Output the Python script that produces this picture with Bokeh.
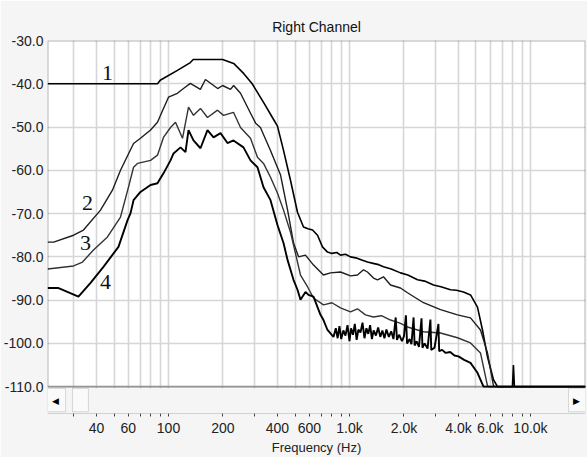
from bokeh.plotting import figure
from bokeh.models import Range1d, FixedTicker, PrintfTickFormatter, BoxAnnotation, Label
from bokeh.embed import file_html
from bokeh.resources import INLINE

# ---------------- data (frequency in Hz, level in dB) ----------------
curve1 = [(21.5, -40.0), (87, -40.0), (90, -39.2), (112, -36.9), (132, -35.1), (137, -34.4),
          (199, -34.4), (229, -35.3), (260, -37.6), (290, -40.0), (335, -44.3), (380, -48.2),
          (400, -49.8), (432, -55.4), (472, -62.3), (516, -69.7), (557, -73.1), (590, -73.5),
          (625, -73.8), (666, -75.0), (709, -77.7), (756, -78.9), (800, -79.2), (850, -79.0),
          (892, -79.6), (950, -79.4), (1013, -80.0), (1100, -80.3), (1180, -80.8), (1257, -81.2),
          (1350, -81.5), (1450, -81.8), (1541, -82.3), (1700, -82.8), (1913, -83.7), (2100, -84.2),
          (2376, -85.3), (2600, -85.6), (2911, -86.5), (3200, -86.9), (3614, -87.6), (3900, -87.7),
          (4265, -88.1), (4663, -88.8), (5096, -91.6), (5430, -96.9), (5787, -103.1), (6246, -108.4),
          (6572, -110.0), (7950, -110.0), (8050, -105.0), (8150, -110.0), (20137, -110.0)]

curve2 = [(21.5, -76.6), (23.2, -76.6), (29.9, -75.0), (33.9, -73.8), (42.1, -69.2), (49.0, -64.6),
          (54.3, -60.0), (64.1, -53.8), (70.0, -52.6), (79.6, -50.7), (86.9, -48.9), (93.8, -45.7),
          (100, -43.1), (112, -42.2), (121, -41.1), (132, -39.9), (150, -41.3), (160, -39.0),
          (187, -41.1), (199, -40.4), (220, -41.3), (229, -40.4), (250, -42.2), (284, -46.8),
          (303, -49.1), (322, -50.1), (366, -55.4), (416, -61.1), (455, -69.2), (491, -76.8),
          (523, -80.0), (571, -79.6), (633, -81.9), (718, -84.2), (785, -83.7), (892, -83.5),
          (1013, -84.4), (1107, -84.2), (1195, -83.0), (1257, -83.5), (1357, -84.9), (1428, -85.3),
          (1541, -84.6), (1685, -86.5), (1913, -87.2), (2091, -88.3), (2564, -90.6), (3183, -92.2),
          (3952, -93.4), (4663, -94.1), (5294, -96.9), (5787, -102.2), (6246, -109.8), (6400, -110.0),
          (20137, -110.0)]

curve3 = [(21.5, -82.8), (29.9, -82.1), (33.5, -81.2), (38.5, -78.4), (46.0, -75.4), (54.3, -70.8),
          (60.1, -63.9), (64.1, -59.3), (67.4, -58.4), (79.6, -57.7), (86.9, -56.5), (93.8, -52.4),
          (102.6, -50.1), (109.3, -48.9), (119.5, -52.6), (129.0, -45.4), (137.4, -47.3), (150.2, -45.7),
          (164.2, -47.8), (186.5, -46.1), (201.3, -47.3), (228.6, -46.6), (249.9, -50.1), (283.8, -52.6),
          (310.2, -57.0), (334.9, -58.4), (366.1, -61.6), (400.3, -65.3), (432.0, -69.2), (472.1, -74.3),
          (516.1, -81.2), (536.1, -84.2), (586.1, -86.9), (632.5, -89.5), (718.4, -91.1), (800, -90.6),
          (891.8, -91.8), (1013, -92.7), (1107, -92.0), (1225, -93.4), (1357, -93.9), (1500, -93.6),
          (1685, -94.6), (1900, -95.3), (2091, -96.2), (2564, -97.3), (3183, -97.6), (3952, -98.7),
          (4663, -99.9), (5294, -102.2), (5787, -109.8), (5900, -110.0), (20137, -110.0)]

curve4 = [(21.5, -87.2), (24.7, -87.2), (31.8, -89.2), (37.1, -86.0), (43.7, -82.3), (52.9, -77.7),
          (59.4, -71.5), (61.7, -69.9), (64.1, -66.9), (70.0, -65.0), (79.6, -63.4), (86.9, -63.0),
          (93.8, -60.7), (102.6, -57.7), (106.6, -56.1), (116.5, -54.7), (124.1, -55.8), (129.0, -50.7),
          (137.4, -53.1), (150.2, -54.9), (164.2, -50.7), (177.3, -52.4), (193.8, -51.4), (211.8, -53.7),
          (228.6, -53.1), (259.6, -54.7), (283.8, -57.7), (310.2, -59.3), (334.9, -63.9), (366.1, -66.9),
          (400.3, -72.7), (432.0, -76.8), (454.6, -80.7), (490.5, -85.3), (516.1, -87.6), (536.1, -89.9),
          (571.3, -88.1), (593.6, -88.8), (632.5, -89.2), (691.5, -93.4), (718.4, -94.6), (756.0, -96.9),
          (815.8, -98.5), (840, -96.5), (860, -98.8), (880, -96.0), (900, -99.0), (925, -97.0),
          (950, -98.2), (975, -95.8), (1000, -99.5), (1020, -96.5), (1045, -98.0), (1070, -95.5),
          (1095, -99.2), (1120, -96.8), (1150, -97.5), (1180, -95.2), (1210, -98.8), (1240, -96.5),
          (1270, -97.8), (1300, -95.8), (1330, -99.0), (1360, -97.0), (1400, -98.2), (1440, -96.3),
          (1480, -98.5), (1520, -97.0), (1560, -98.8), (1600, -96.8), (1650, -98.5), (1700, -97.2),
          (1750, -99.0), (1800, -94.0), (1830, -99.2), (1880, -98.0), (1950, -99.5), (2000, -98.3),
          (2050, -93.5), (2080, -100.0), (2150, -99.0), (2200, -100.2), (2260, -94.0), (2290, -100.5),
          (2350, -99.5), (2420, -100.8), (2500, -94.2), (2530, -101.0), (2600, -100.0), (2700, -101.2),
          (2800, -94.5), (2830, -101.5), (2950, -101.0), (3100, -95.5), (3130, -101.8), (3250, -101.5),
          (3400, -102.2), (3600, -102.0), (3800, -102.8), (4000, -103.0), (4300, -103.8), (4663, -104.5),
          (5096, -106.8), (5500, -110.0), (20137, -110.0)]

curve_names = ["1", "2", "3", "4"]
curve_label_pos = [(46, -37.4), (35.7, -67.6), (34.8, -76.8), (44.9, -85.8)]

x_tick_values = [40, 60, 100, 200, 400, 600, 1000, 2000, 4000, 6000, 10000]
x_tick_labels = ["40", "60", "100", "200", "400", "600", "1.0k", "2.0k", "4.0k", "6.0k", "10.0k"]
x_minor_values = [30, 50, 70, 80, 90, 300, 500, 700, 800, 900, 3000, 5000, 7000, 8000, 9000]
y_tick_values = [-110, -100, -90, -80, -70, -60, -50, -40, -30]

F_MIN, F_MAX = 21.45, 20137
DB_TOP, DB_FLOOR, DB_BOTTOM = -30.0, -110.0, -116.2

SANS = "Liberation Sans"
GRID = "#d6d6d6"
BG = "#f5f5f5"

p = figure(width=587, height=457, x_axis_type="log",
           x_range=Range1d(F_MIN, F_MAX), y_range=Range1d(DB_BOTTOM, DB_TOP),
           output_backend="svg", toolbar_location=None, title="Right Channel",
           min_border_left=47, min_border_right=2, min_border_top=40, min_border_bottom=43)

p.border_fill_color = BG
p.background_fill_color = "white"
p.outline_line_color = None

p.title.align = "center"
p.title.text_font = SANS
p.title.text_font_size = "14px"
p.title.text_font_style = "normal"
p.title.text_color = "#111111"
p.title.standoff = 11

# x axis
p.xaxis.ticker = FixedTicker(ticks=x_tick_values, minor_ticks=x_minor_values)
p.xaxis.major_label_overrides = dict(zip(x_tick_values, x_tick_labels))
p.xaxis.major_tick_in = 0
p.xaxis.major_tick_out = 3
p.xaxis.minor_tick_in = 0
p.xaxis.minor_tick_out = 3
p.xaxis.major_tick_line_color = "#444444"
p.xaxis.minor_tick_line_color = "#444444"
p.xaxis.axis_line_color = "#c4c4c4"
p.xaxis.major_label_standoff = 3
p.xaxis.major_label_text_font = SANS
p.xaxis.major_label_text_font_size = "14px"
p.xaxis.major_label_text_color = "#222222"
p.xaxis.axis_label = "Frequency (Hz)"
p.xaxis.axis_label_standoff = 1
p.xaxis.axis_label_text_font = SANS
p.xaxis.axis_label_text_font_size = "13px"
p.xaxis.axis_label_text_font_style = "normal"
p.xaxis.axis_label_text_color = "#222222"

# y axis
p.yaxis.ticker = FixedTicker(ticks=y_tick_values)
p.yaxis.formatter = PrintfTickFormatter(format="%.1f")
p.yaxis.major_tick_in = 0
p.yaxis.major_tick_out = 0
p.yaxis.minor_tick_line_color = None
p.yaxis.axis_line_color = None
p.yaxis.major_label_standoff = 4
p.yaxis.major_label_text_font = SANS
p.yaxis.major_label_text_font_size = "14px"
p.yaxis.major_label_text_color = "#222222"

# grids
p.xgrid.grid_line_color = GRID
p.xgrid.grid_line_width = 1.6
p.xgrid.minor_grid_line_color = GRID
p.xgrid.minor_grid_line_width = 1.6
p.ygrid.grid_line_color = GRID
p.ygrid.grid_line_width = 1.6

# curves
styles = [("#000000", 1.6), ("#1e1e1e", 1.4), ("#333333", 1.4), ("#000000", 1.9)]
for data, (col, lw) in zip([curve1, curve2, curve3, curve4], styles):
    fx, dy = zip(*data)
    p.line(list(fx), list(dy), line_color=col, line_width=lw)

for name, (fx, dy) in zip(curve_names, curve_label_pos):
    p.add_layout(Label(x=fx, y=dy, text=name, text_font="Liberation Serif",
                       text_font_size="22px", text_align="center",
                       text_baseline="middle", text_color="#111111"))

# scrollbar strip below the plot frame
p.add_layout(BoxAnnotation(bottom=DB_BOTTOM, top=DB_FLOOR - 0.35, fill_color=BG,
                           fill_alpha=1, line_color=None))
for l, r in [(F_MIN, 27.0), (29.5, 36.1), (16220, F_MAX)]:
    p.add_layout(BoxAnnotation(left=l, right=r, bottom=DB_BOTTOM + 0.4, top=DB_FLOOR - 0.4,
                               fill_color="#fafafa", fill_alpha=1,
                               line_color="#8c8c8c", line_width=1))
p.add_layout(Label(x=23.6, y=-113.2, text="◀", text_font_size="9px", text_align="center",
                   text_baseline="middle", text_color="black"))
p.add_layout(Label(x=17950, y=-113.2, text="▶", text_font_size="9px", text_align="center",
                   text_baseline="middle", text_color="black"))

# plot border
p.add_layout(BoxAnnotation(bottom=DB_FLOOR, top=DB_TOP, fill_alpha=0,
                           line_color="black", line_width=2))

open("out.html", "w").write(file_html(p, INLINE))
